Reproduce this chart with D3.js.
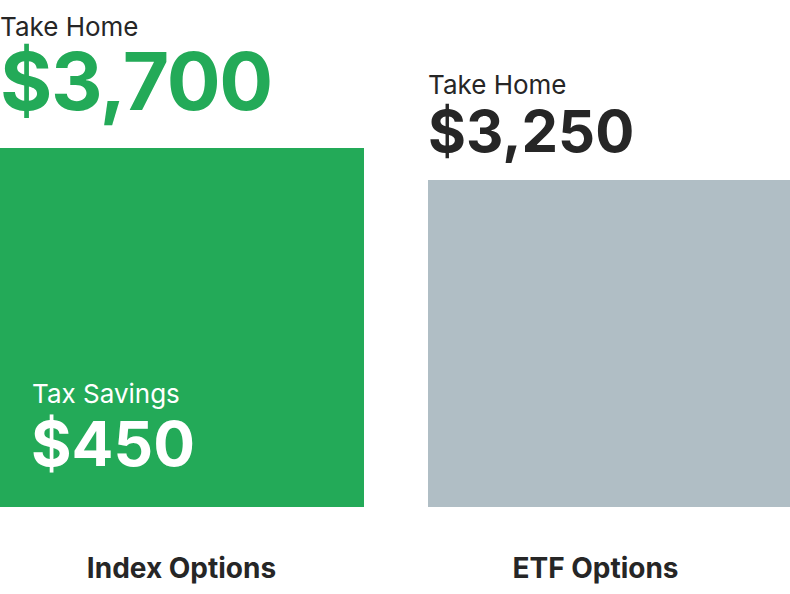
<!DOCTYPE html>
<html><head><meta charset="utf-8">
<script src="https://cdn.jsdelivr.net/npm/d3@7"></script>
<style>body{margin:0;background:#fff}svg{display:block}</style>
</head><body>
<script>
const categories = ["Index Options", "ETF Options"];
const takeHome = [3700, 3250];
const taxSavings = [450, null];
const headerLabel = "Take Home";
const savingsLabel = "Tax Savings";

const W = 790, H = 594;
const svg = d3.select("body").append("svg").attr("width", W).attr("height", H);
const colors = ["#23AA58", "#B0BEC5"];
const valueColors = ["#23AA58", "#262626"];
const valueSizes = [80, 58];
const valueSpacing = [-1.4, 0];
const headerOffsets = [74, 58];

const x = d3.scaleBand().domain(categories).range([0, 792]).paddingInner(64/428);
const y = d3.scaleLinear().domain([3250, 3700]).range([180, 148]);
const baseY = 507;
const labelX = d3.scalePoint().domain(categories).range([181.5, 595.5]);
const fmt = d3.format("$,");
const font = "Inter, 'Noto Sans', sans-serif";

const data = categories.map((c, i) => ({c, v: takeHome[i], s: taxSavings[i], i}));

svg.selectAll("rect.bar").data(data).join("rect").attr("class","bar")
  .attr("x", d => x(d.c)).attr("width", x.bandwidth())
  .attr("y", d => y(d.v)).attr("height", d => baseY - y(d.v))
  .attr("fill", d => colors[d.i]);

const g = svg.selectAll("g.lab").data(data).join("g").attr("class","lab");
g.append("text")
  .attr("x", d => x(d.c)).attr("y", d => y(d.v) - valueSizes[d.i]*0.48)
  .attr("font-family", font).attr("font-weight", 700)
  .attr("letter-spacing", d => valueSpacing[d.i])
  .attr("font-size", d => valueSizes[d.i]).attr("fill", d => valueColors[d.i])
  .text(d => fmt(d.v));
g.append("text")
  .attr("x", d => x(d.c)).attr("y", d => y(d.v) - valueSizes[d.i]*0.48 - headerOffsets[d.i])
  .attr("font-family", font).attr("font-size", 26).attr("fill", "#262626")
  .text(headerLabel);

const sv = data.filter(d => d.s != null);
svg.selectAll("text.sl").data(sv).join("text").attr("class","sl")
  .attr("x", d => x(d.c) + 32).attr("y", 403)
  .attr("font-family", font).attr("font-size", 26).attr("fill", "#fff")
  .text(savingsLabel);
svg.selectAll("text.sv").data(sv).join("text").attr("class","sv")
  .attr("x", d => x(d.c) + 31).attr("y", 466)
  .attr("font-family", font).attr("font-weight", 700).attr("font-size", 62).attr("fill", "#fff")
  .text(d => fmt(d.s));

svg.selectAll("text.cat").data(categories).join("text").attr("class","cat")
  .attr("x", d => labelX(d)).attr("y", 578).attr("text-anchor","middle")
  .attr("font-family", font).attr("font-weight", 700).attr("font-size", 28)
  .attr("fill", "#262626").text(d => d);
</script>
</body></html>
